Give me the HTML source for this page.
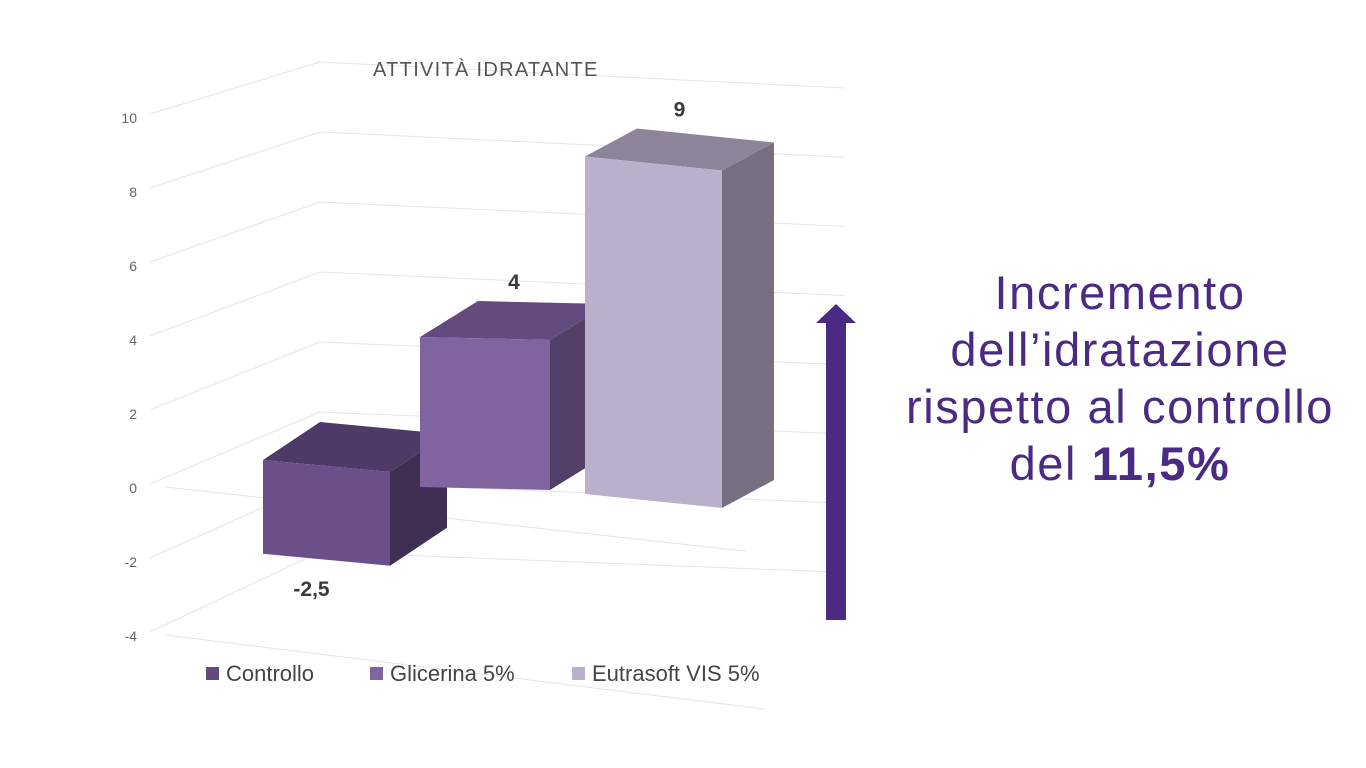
<!DOCTYPE html>
<html><head><meta charset="utf-8">
<style>
html,body{margin:0;padding:0;background:#fff;}
body{width:1366px;height:768px;overflow:hidden;position:relative;font-family:"Liberation Sans",sans-serif;}
.msg{position:absolute;left:870px;top:264px;width:500px;text-align:center;color:#4a2a82;font-size:47px;line-height:57px;letter-spacing:1.6px;}
</style></head>
<body>
<svg id="chart" width="1366" height="768" style="position:absolute;left:0;top:0">
  <g id="grid"></g>
  <g id="yticks"></g>
  <g id="bars"></g>
  <g id="labels"></g>
  <text x="373" y="76" font-size="20" letter-spacing="1.3" fill="#555" font-family="Liberation Sans, sans-serif">ATTIVITÀ IDRATANTE</text>
  <g id="legend"></g>
  <g>
    <rect x="826" y="320" width="20" height="300" fill="#4a2a82"/>
    <polygon points="816,323 836,304 856,323" fill="#4a2a82"/>
  </g>
</svg>
<div class="msg">Incremento<br>dell’idratazione<br>rispetto al controllo<br>del <b>11,5%</b></div>
<script>
const categories = ["Controllo", "Glicerina 5%", "Eutrasoft VIS 5%"];
const values = [-2.5, 4, 9];
const valueLabels = ["-2,5", "4", "9"];
const tickValues = [10, 8, 6, 4, 2, 0, -2, -4];
const tickLabels = ["10", "8", "6", "4", "2", "0", "-2", "-4"];

const NS = "http://www.w3.org/2000/svg";
function mk(tag, attrs, parent) {
  const e = document.createElementNS(NS, tag);
  for (const k in attrs) e.setAttribute(k, attrs[k]);
  parent.appendChild(e);
  return e;
}
function yFront(v) { return 487 - v * 37; }
function yBack(v) { return 412 - v * 35; }
function yRight(v) { return 434 - v * 34.6; }
const UNIT = 37.5;

(function () {
  const grid = document.getElementById('grid');
  tickValues.forEach((v, i) => {
    const l1 = mk('line', {x1: 150, y1: yFront(v) - 3, x2: 320, y2: yBack(v), stroke: '#e4e4e4', 'stroke-width': 1}, grid);
    
    
    const l2 = mk('line', {x1: 320, y1: yBack(v), x2: 845, y2: yRight(v), stroke: '#e4e4e4', 'stroke-width': 1}, grid);
    
    
    const t = mk('text', {x: 137, y: yFront(v) + 6, 'text-anchor': 'end', 'font-size': 14, fill: '#666'}, document.getElementById('yticks'));
    
    
    t.textContent = tickLabels[i];
  });
  [0, -4].forEach(v => {
    const l = mk('line', {x1: 165, y1: yFront(v), x2: 745 + (v < 0 ? 20 : 0), y2: yFront(v) + 64 + (v < 0 ? 10 : 0), stroke: '#e4e4e4', 'stroke-width': 1}, grid);
    
    
  });

  const barLeft = [263, 420, 585];
  const barWidth = [127, 130, 137];
  const zeroLeft = [460, 487, 494];
  const edgeSlope = [12, 3, 14];
  const depth = [[57, -38], [58, -36], [52, -28]];
  const frontCol = ['#6b4f88', '#7f64a0', '#bab0cc'];
  const topCol = ['#4e3a67', '#634b80', '#8e8499'];
  const sideCol = ['#3f3053', '#524068', '#776e82'];
  const legendCol = ['#624a80', '#7f64a0', '#bab0cc'];

  const bars = document.getElementById('bars');
  const labels = document.getElementById('labels');
  values.forEach((v, i) => {
    const xl = barLeft[i], xr = xl + barWidth[i];
    const dx = depth[i][0], dy = depth[i][1];
    const y0l = zeroLeft[i], y0r = zeroLeft[i] + edgeSlope[i];
    const ytl = y0l - Math.max(v, 0) * UNIT, ytr = y0r - Math.max(v, 0) * UNIT;
    const ybl = y0l - Math.min(v, 0) * UNIT, ybr = y0r - Math.min(v, 0) * UNIT;
    const g = mk('g', {}, bars);
    
    
    mk('polygon', {points: `${xr},${ytr} ${xr+dx},${ytr+dy} ${xr+dx},${ybr+dy} ${xr},${ybr}`, fill: sideCol[i]}, g);
    mk('polygon', {points: `${xl},${ytl} ${xl+dx},${ytl+dy} ${xr+dx},${ytr+dy} ${xr},${ytr}`, fill: topCol[i]}, g);
    mk('polygon', {points: `${xl},${ytl} ${xr},${ytr} ${xr},${ybr} ${xl},${ybl}`, fill: frontCol[i]}, g);
    const cx = (xl + xr) / 2 + dx / 2;
    const ly = v >= 0 ? ytl + dy - 12 : ybr + 30;
    const t = mk('text', {x: v >= 0 ? cx : (xl + xr) / 2 - 15, y: ly, 'text-anchor': 'middle', 'font-size': 21, 'font-weight': 'bold', fill: '#3a3a3a'}, labels);
    
    
    t.textContent = valueLabels[i];
  });

  const legend = document.getElementById('legend');
  const legX = [206, 370, 572];
  categories.forEach((c, i) => {
    const g = mk('g', {}, legend);
    
    
    mk('rect', {x: legX[i], y: 667, width: 13, height: 13, fill: legendCol[i]}, g);
    const t = mk('text', {x: legX[i] + 20, y: 681, 'font-size': 22, fill: '#444'}, g);
    t.textContent = c;
  });
})();
</script>
</body></html>
